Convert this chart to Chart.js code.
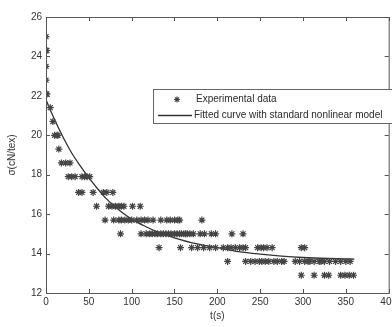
<!DOCTYPE html>
<html>
<head>
<meta charset="utf-8">
<script src="https://cdn.jsdelivr.net/npm/chart.js@4.4.0/dist/chart.umd.min.js"></script>
<style>
html, body { margin: 0; padding: 0; background: #fff; overflow: hidden; }
#wrap { width: 400px; height: 327px; }
</style>
</head>
<body>
<div id="wrap"><canvas id="chart" width="400" height="327"></canvas></div>
<script>
const xTicks = [0, 50, 100, 150, 200, 250, 300, 350, 400];
const yTicks = [12, 14, 16, 18, 20, 22, 24, 26];

// measured stress levels (rows) and the times at which they appear
const rowSigma = [25.0, 24.3, 23.5, 22.8, 22.1, 21.4, 20.7, 20.0, 19.3, 18.6,
                  17.9, 17.1, 16.4, 15.7, 15.0, 14.3, 13.6, 12.9];
const rowTimes = [
    [0],
    [0, 1],
    [0],
    [0],
    [0, 1],
    [5],
    [8],
    [10, 13, 14],
    [15],
    [18, 23, 28],
    [26, 30, 34, 42, 45, 48, 51],
    [38, 42, 55, 67, 71, 78],
    [59, 73, 77, 81, 85, 88, 91, 101, 110],
    [69, 79, 85, 88, 92, 96, 100, 106, 111, 115, 119, 125, 134, 141, 145, 150, 154, 156, 182],
    [87, 111, 117, 121, 124, 127, 130, 134, 137, 140, 143, 146, 150, 153, 156, 158, 161, 163, 165, 168, 172, 180, 185, 193, 198, 217, 230],
    [132, 157, 170, 177, 184, 191, 198, 207, 212, 216, 221, 226, 230, 233, 247, 251, 254, 258, 264, 298, 302],
    [212, 233, 239, 244, 249, 252, 256, 260, 266, 270, 275, 278, 291, 296, 302, 306, 308, 313, 319, 321, 325, 331, 338, 344, 350, 355],
    [298, 313, 325, 330, 344, 349, 354, 359]
];

// fitted curve
const curveT =     [0, 10, 20, 30, 40, 50, 60, 70, 80, 90, 100, 115, 130, 150, 175, 200, 225, 250, 275, 300, 330, 360];
const curveSigma = [21.8, 20.8, 19.9, 19.1, 18.45, 17.85, 17.3, 16.8, 16.4, 16.05, 15.75, 15.4, 15.1, 14.8, 14.5, 14.3, 14.1, 13.97, 13.87, 13.8, 13.75, 13.72];

const legendLabels = ['Experimental data', 'Fitted curve with standard nonlinear model'];

const expPoints = [];
rowSigma.forEach((s, i) => rowTimes[i].forEach(t => expPoints.push({ x: t, y: s })));
const curvePoints = curveT.map((t, i) => ({ x: t, y: curveSigma[i] }));

function drawStar(ctx, cx, cy, r) {
    const d = r * Math.SQRT1_2;
    ctx.beginPath();
    ctx.moveTo(cx - r, cy); ctx.lineTo(cx + r, cy);
    ctx.moveTo(cx, cy - r); ctx.lineTo(cx, cy + r);
    ctx.moveTo(cx - d, cy - d); ctx.lineTo(cx + d, cy + d);
    ctx.moveTo(cx - d, cy + d); ctx.lineTo(cx + d, cy - d);
    ctx.stroke();
}

const matlabFrame = {
    id: 'matlabFrame',
    afterDatasetsDraw(chart) {
        const { ctx, chartArea: a, scales: { x, y } } = chart;
        ctx.save();
        ctx.strokeStyle = '#555';
        ctx.lineWidth = 1;
        ctx.strokeRect(a.left + 0.5, a.top + 0.5, a.right - a.left, a.bottom - a.top);

        // inward tick marks on all four sides
        ctx.beginPath();
        xTicks.forEach(v => {
            const px = Math.round(x.getPixelForValue(v)) + 0.5;
            ctx.moveTo(px, a.bottom); ctx.lineTo(px, a.bottom - 4);
            ctx.moveTo(px, a.top); ctx.lineTo(px, a.top + 4);
        });
        yTicks.forEach(v => {
            const py = Math.round(y.getPixelForValue(v)) + 0.5;
            ctx.moveTo(a.left, py); ctx.lineTo(a.left + 4, py);
            ctx.moveTo(a.right, py); ctx.lineTo(a.right - 4, py);
        });
        ctx.stroke();

        // legend box
        const lx = 153, ly = 89, lw = 242, lh = 34;
        ctx.fillStyle = '#fff';
        ctx.fillRect(lx, ly, lw, lh);
        ctx.strokeStyle = '#666';
        ctx.strokeRect(lx + 0.5, ly + 0.5, lw, lh);

        ctx.strokeStyle = '#444';
        ctx.lineWidth = 1.2;
        drawStar(ctx, 177, 99.5, 3);
        ctx.strokeStyle = '#333';
        ctx.lineWidth = 1.3;
        ctx.beginPath();
        ctx.moveTo(158, 115.5); ctx.lineTo(192, 115.5);
        ctx.stroke();

        ctx.fillStyle = '#2a2a2a';
        ctx.font = '10px "Liberation Sans", Arial, sans-serif';
        ctx.textBaseline = 'middle';
        ctx.textAlign = 'left';
        ctx.fillText(legendLabels[0], 196, 99.5);
        ctx.fillText(legendLabels[1], 194, 115.5);
        ctx.restore();
    }
};

const tickFont = { family: '"Liberation Sans", Arial, sans-serif', size: 10 };

new Chart(document.getElementById('chart'), {
    type: 'scatter',
    data: {
        datasets: [{
            label: legendLabels[0],
            data: expPoints,
            pointStyle: 'star',
            pointRadius: 3.5,
            pointBorderWidth: 1.2,
            borderColor: '#444',
            backgroundColor: '#444'
        }, {
            label: legendLabels[1],
            data: curvePoints,
            showLine: true,
            pointRadius: 0,
            borderColor: '#333',
            borderWidth: 1.3,
            cubicInterpolationMode: 'monotone'
        }]
    },
    options: {
        responsive: false,
        animation: false,
        layout: { padding: { top: 17, right: 4, left: 0, bottom: 0 } },
        plugins: { legend: { display: false }, tooltip: { enabled: false } },
        scales: {
            x: {
                type: 'linear', min: 0, max: 400,
                afterBuildTicks: s => { s.ticks = xTicks.map(v => ({ value: v })); },
                afterFit: s => { s.height = 34; },
                grid: { display: false, drawTicks: false },
                border: { display: false },
                ticks: { padding: 3, color: '#333', font: tickFont, maxRotation: 0, autoSkip: false },
                title: { display: true, text: 't(s)', color: '#333', font: tickFont, padding: { top: 0, bottom: 5 } }
            },
            y: {
                type: 'linear', min: 12, max: 26,
                afterBuildTicks: s => { s.ticks = yTicks.map(v => ({ value: v })); },
                afterFit: s => { s.width = 46; },
                grid: { display: false, drawTicks: false },
                border: { display: false },
                ticks: { padding: 4, color: '#333', font: tickFont, autoSkip: false },
                title: { display: true, text: 'σ(cN/tex)', color: '#333', font: tickFont, padding: { top: 6, bottom: 0 } }
            }
        }
    },
    plugins: [matlabFrame]
});
</script>
</body>
</html>
